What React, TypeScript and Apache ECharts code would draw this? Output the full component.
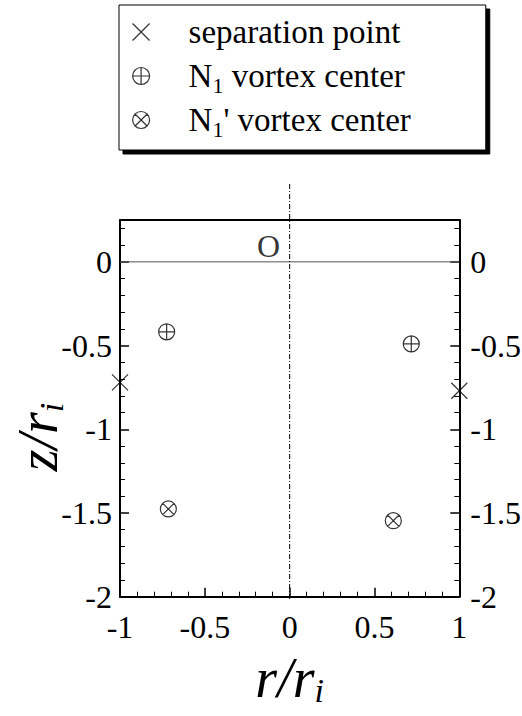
import React, { useEffect, useRef } from 'react';
import * as echarts from 'echarts';

// ---- data ----
const separationPoints: number[][] = [
  [-1, -0.72],
  [1, -0.77],
];
const n1Centers: number[][] = [
  [-0.725, -0.418],
  [0.717, -0.49],
];
const n1PrimeCenters: number[][] = [
  [-0.715, -1.476],
  [0.611, -1.546],
];
const zeroLine: number[][] = [
  [-1, 0],
  [1, 0],
];
const axisLine: number[][] = [
  [0, 0.465],
  [0, -2.025],
];
const originPoint: number[][] = [[0, 0]];

const xRange = [-1, 1];
const yRange = [-2, 0.25];
const tickStep = 0.5;

const seriesNames = ['separation point', 'N1 vortex center', "N1' vortex center"];
const legendLabels: Record<string, string> = {
  'separation point': 'separation point',
  'N1 vortex center': 'N{sub|1} vortex center',
  "N1' vortex center": "N{sub|1}' vortex center",
};
const xName = 'r/r{sub|i}';
const yName = 'z/r{sub|i}';

const SERIF = 'Liberation Serif, Times New Roman, DejaVu Serif, serif';

const CROSS = 'path://M0,0L16,16M16,0L0,16';
const OPLUS = 'path://M0,8A8,8,0,1,1,16,8A8,8,0,1,1,0,8ZM8,0L8,16M0,8L16,8';
const OTIMES =
  'path://M0,8A8,8,0,1,1,16,8A8,8,0,1,1,0,8ZM2.343,2.343L13.657,13.657M13.657,2.343L2.343,13.657';

const markerStyle = { color: 'rgba(0,0,0,0)', borderColor: '#000', borderWidth: 1.2 };

export default function App() {
  const ref = useRef<HTMLDivElement>(null);

  useEffect(() => {
    if (!ref.current) return;
    const chart = echarts.init(ref.current, undefined, { renderer: 'svg' });

    const tickLabel = { fontFamily: SERIF, fontSize: 32, color: '#000' };

    const yAxisBase = {
      type: 'value' as const,
      min: yRange[0],
      max: yRange[1],
      interval: tickStep,
      splitLine: { show: false },
      axisLine: { show: true, lineStyle: { color: '#000', width: 2 } },
      axisTick: { show: true, inside: true, length: 9, lineStyle: { color: '#000', width: 1.5 } },
      minorTick: { show: true, splitNumber: 5, length: 5, lineStyle: { color: '#000', width: 1 } },
    };

    const subRich = {
      sub: {
        fontFamily: SERIF,
        fontStyle: 'italic',
        fontSize: 34,
        fill: '#000',
        color: '#000',
        lineHeight: 22,
        verticalAlign: 'bottom',
      },
    };

    chart.setOption({
      animation: false,
      backgroundColor: '#fff',
      grid: {
        left: 120,
        right: 62.7,
        top: 220,
        bottom: 119.3,
        containLabel: false,
        outerBoundsMode: 'none',
      },
      graphic: [
        {
          type: 'text',
          x: 38,
          y: 437,
          rotation: Math.PI / 2,
          silent: true,
          style: {
            text: yName,
            fontFamily: SERIF,
            fontStyle: 'italic',
            fontSize: 56,
            fill: '#000',
            lineHeight: 60,
            align: 'center',
            verticalAlign: 'middle',
            rich: subRich,
          },
        },
      ],
      legend: {
        data: seriesNames,
        orient: 'vertical',
        left: 119,
        top: 5,
        padding: [7, 75, 10, 13],
        itemWidth: 17,
        itemHeight: 17,
        itemGap: 4,
        selectedMode: false,
        backgroundColor: '#fff',
        borderColor: '#000',
        borderWidth: 1,
        shadowColor: '#000',
        shadowBlur: 0,
        shadowOffsetX: 4,
        shadowOffsetY: 4,
        itemStyle: markerStyle,
        formatter: (name: string) => legendLabels[name] ?? name,
        textStyle: {
          fontFamily: SERIF,
          fontSize: 33,
          color: '#000',
          lineHeight: 40,
          padding: [0, 0, 0, 34],
          rich: {
            sub: { fontFamily: SERIF, fontSize: 22, color: '#000', lineHeight: 20, verticalAlign: 'bottom' },
          },
        },
      },
      xAxis: [
        {
          type: 'value',
          position: 'bottom',
          min: xRange[0],
          max: xRange[1],
          interval: tickStep,
          splitLine: { show: false },
          axisLine: { show: true, onZero: false, lineStyle: { color: '#000', width: 2 } },
          axisTick: { show: true, inside: true, length: 9, lineStyle: { color: '#000', width: 1.5 } },
          minorTick: { show: true, splitNumber: 5, length: 5, lineStyle: { color: '#000', width: 1 } },
          axisLabel: { ...tickLabel, margin: 14 },
          name: xName,
          nameLocation: 'middle',
          nameGap: 51,
          nameTextStyle: {
            fontFamily: SERIF,
            fontStyle: 'italic',
            fontSize: 56,
            color: '#000',
            lineHeight: 60,
            rich: subRich,
          },
        },
        {
          type: 'value',
          position: 'top',
          min: xRange[0],
          max: xRange[1],
          interval: tickStep,
          splitLine: { show: false },
          axisLine: { show: true, onZero: false, lineStyle: { color: '#000', width: 2 } },
          axisTick: { show: false },
          axisLabel: { show: false },
        },
      ],
      yAxis: [
        {
          ...yAxisBase,
          position: 'left',
          axisLine: { ...yAxisBase.axisLine, onZero: false },
          axisLabel: { ...tickLabel, margin: 8, showMaxLabel: false },
        },
        {
          ...yAxisBase,
          position: 'right',
          axisLine: { ...yAxisBase.axisLine, onZero: false },
          axisLabel: { ...tickLabel, margin: 11, showMaxLabel: false },
        },
      ],
      series: [
        {
          name: 'zero',
          type: 'line',
          data: zeroLine,
          symbol: 'none',
          silent: true,
          lineStyle: { color: '#555', width: 1 },
          z: 1,
        },
        {
          name: 'axis',
          type: 'line',
          data: axisLine,
          symbol: 'none',
          silent: true,
          clip: false,
          lineStyle: { color: '#000', width: 1, type: [5, 2, 1, 2] },
          z: 1,
        },
        {
          name: 'origin',
          type: 'scatter',
          data: originPoint,
          symbolSize: 1,
          silent: true,
          itemStyle: { color: 'rgba(0,0,0,0)' },
          label: {
            show: true,
            formatter: 'O',
            position: 'inside',
            offset: [-21, -16],
            fontFamily: SERIF,
            fontSize: 32,
            color: '#000',
          },
        },
        {
          name: seriesNames[0],
          type: 'scatter',
          data: separationPoints,
          symbol: CROSS,
          symbolSize: 16,
          clip: false,
          itemStyle: markerStyle,
          z: 5,
        },
        {
          name: seriesNames[1],
          type: 'scatter',
          data: n1Centers,
          symbol: OPLUS,
          symbolSize: 16,
          clip: false,
          itemStyle: markerStyle,
          z: 5,
        },
        {
          name: seriesNames[2],
          type: 'scatter',
          data: n1PrimeCenters,
          symbol: OTIMES,
          symbolSize: 16,
          clip: false,
          itemStyle: markerStyle,
          z: 5,
        },
      ],
    });

    return () => chart.dispose();
  }, []);

  return (
    <div
      ref={ref}
      style={{ position: 'fixed', left: 0, top: 0, width: 522, height: 716, background: '#fff' }}
    />
  );
}
